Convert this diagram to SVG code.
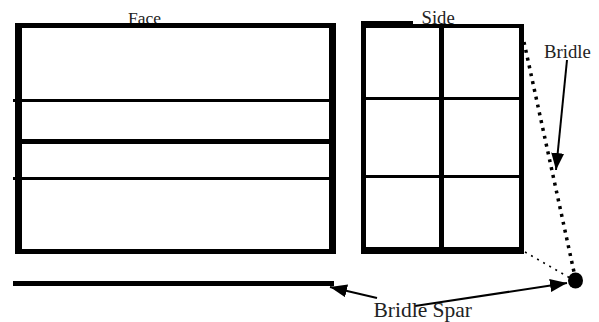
<svg xmlns="http://www.w3.org/2000/svg" width="599" height="322" viewBox="0 0 599 322">
<style>
text{font-family:"Liberation Serif","Times New Roman",serif;fill:#222}
.l{stroke:#000;fill:none}
</style>
<defs>
<marker id="a" markerUnits="userSpaceOnUse" markerWidth="20" markerHeight="14" refX="17" refY="6.500" orient="auto"><path d="M0 0L17 6.500L0 13Z" fill="#000"/></marker>
</defs>
<rect width="599" height="322" fill="#fff"/>
<g id="face">
<text x="128" y="24" font-size="17.500">Face</text>
<rect x="15" y="23" width="321" height="5"/>
<rect x="15" y="249" width="321" height="5"/>
<rect x="15" y="23" width="7" height="231"/>
<rect x="329" y="23" width="7" height="231"/>
<path class="l" d="M13 100.500H332M13 178.500H332" stroke-width="3"/>
<path class="l" d="M20 141.500H332" stroke-width="5"/>
</g>
<g id="side">
<text x="421.500" y="24" font-size="18.700">Side</text>
<rect x="361" y="21" width="52" height="5"/>
<rect x="361" y="24" width="163" height="4"/>
<rect x="361" y="24" width="5" height="230"/>
<rect x="519" y="24" width="5" height="230"/>
<rect x="361" y="247" width="163" height="7"/>
<rect x="439" y="24" width="5" height="230"/>
<path class="l" d="M361 98.500H524M361 176.500H524" stroke-width="3"/>
</g>
<g id="bridle-spar">
<rect x="13" y="281" width="321" height="5"/>
</g>
<g id="knot"><ellipse cx="575.500" cy="280.500" rx="7.500" ry="8"/></g>
<g id="connectors">
<path class="l" d="M524 42L574 272" stroke-width="3.500" stroke-dasharray="3 5"/>
<path class="l" d="M525 252L570 278" stroke-width="1.500" stroke-dasharray="2 5"/>
<path class="l" d="M567 60L556 170" stroke-width="2" marker-end="url(#a)"/>
<path class="l" d="M377 298L330 287" stroke-width="2" marker-end="url(#a)"/>
<path class="l" d="M415 306L567 283" stroke-width="2" marker-end="url(#a)"/>
</g>
<g id="labels">
<text x="544" y="58" font-size="18.700">Bridle</text>
<text x="373.500" y="317" font-size="21.500">Bridle Spar</text>
</g>
</svg>
